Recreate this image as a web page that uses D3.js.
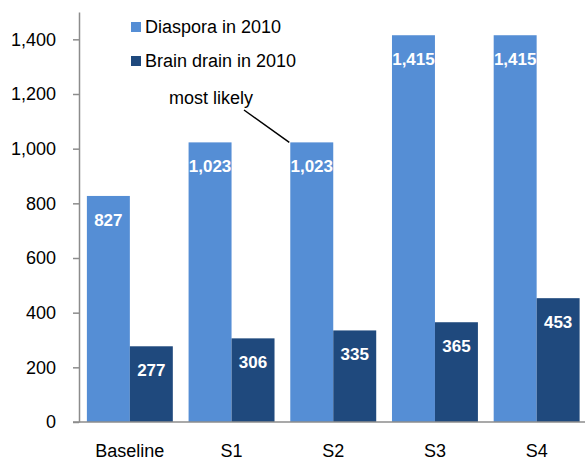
<!DOCTYPE html>
<html>
<head>
<meta charset="utf-8">
<script src="https://cdn.jsdelivr.net/npm/d3@7"></script>
<style>
  html, body { margin: 0; padding: 0; background: #fff; }
  svg { display: block; font-family: "Liberation Sans", Arial, sans-serif; }
</style>
</head>
<body>
<svg id="chart" width="585" height="463"></svg>
<script>
// Scenario categories and the two series plotted for each
const categories = ["Baseline", "S1", "S2", "S3", "S4"];
const diaspora = [827, 1023, 1023, 1415, 1415];
const brainDrain = [277, 306, 335, 365, 453];
const seriesNames = ["Diaspora in 2010", "Brain drain in 2010"];
const yTicks = [0, 200, 400, 600, 800, 1000, 1200, 1400];

const colors = ["#558ED5", "#1F497D"];
const series = [diaspora, brainDrain];

const svg = d3.select("#chart");
const fmt = d3.format(",");

const x0 = d3.scaleBand()
  .domain(categories)
  .range([79, 587.5])
  .paddingInner(0.155)
  .paddingOuter(0.0775);

const x1 = d3.scaleBand()
  .domain(d3.range(series.length))
  .range([0, x0.bandwidth()]);

const y = d3.scaleLinear().domain([0, 1500]).range([422, 12]);

// Bars
const groups = svg.append("g")
  .selectAll("g")
  .data(categories)
  .join("g")
  .attr("transform", d => `translate(${x0(d)},0)`);

groups.selectAll("rect")
  .data((d, i) => series.map((s, k) => ({ k, v: s[i] })))
  .join("rect")
  .attr("x", d => x1(d.k))
  .attr("width", x1.bandwidth())
  .attr("y", d => y(d.v))
  .attr("height", d => y(0) - y(d.v))
  .attr("fill", d => colors[d.k]);

// Value labels inside the top of each bar
groups.selectAll("text.val")
  .data((d, i) => series.map((s, k) => ({ k, v: s[i] })))
  .join("text")
  .attr("class", "val")
  .attr("x", d => x1(d.k) + x1.bandwidth() / 2)
  .attr("y", d => y(d.v) + 30)
  .attr("text-anchor", "middle")
  .attr("fill", "#fff")
  .attr("font-weight", "bold")
  .attr("font-size", 17)
  .text(d => fmt(d.v));

// Y axis
const yAxis = svg.append("g")
  .attr("transform", "translate(79,0)")
  .call(d3.axisLeft(y).tickValues(yTicks).tickSize(6).tickSizeOuter(0).tickPadding(17).tickFormat(fmt));
yAxis.select(".domain").attr("stroke", "#8c8c8c").attr("stroke-width", 1.5);
yAxis.selectAll(".tick line").attr("stroke", "#8c8c8c").attr("stroke-width", 1.5);
yAxis.selectAll(".tick text")
  .attr("font-size", 18)
  .attr("fill", "#000")
  .attr("font-family", "Liberation Sans, Arial, sans-serif");

// X axis baseline and category labels
svg.append("line")
  .attr("x1", 73).attr("x2", 585)
  .attr("y1", y(0)).attr("y2", y(0))
  .attr("stroke", "#8c8c8c").attr("stroke-width", 1.5);

svg.append("g")
  .selectAll("text")
  .data(categories)
  .join("text")
  .attr("x", d => x0(d) + x0.bandwidth() / 2)
  .attr("y", 463 - 6)
  .attr("text-anchor", "middle")
  .attr("font-size", 18)
  .attr("fill", "#000")
  .text(d => d);

// Legend
const legend = svg.append("g")
  .selectAll("g")
  .data(seriesNames)
  .join("g")
  .attr("transform", (d, i) => `translate(131,${22 + i * 34})`);
legend.append("rect")
  .attr("width", 10).attr("height", 10)
  .attr("fill", (d, i) => colors[i]);
legend.append("text")
  .attr("x", 14).attr("y", 11)
  .attr("font-size", 18)
  .attr("fill", "#000")
  .text(d => d);

// Annotation pointing at the S2 diaspora bar
const s2x = x0("S2") + x1(0);
svg.append("text")
  .attr("x", 169).attr("y", 104)
  .attr("font-size", 18)
  .attr("fill", "#000")
  .text("most likely");
svg.append("line")
  .attr("x1", 244).attr("y1", 110)
  .attr("x2", s2x - 1).attr("y2", y(diaspora[2]))
  .attr("stroke", "#000").attr("stroke-width", 1.5);
</script>
</body>
</html>
